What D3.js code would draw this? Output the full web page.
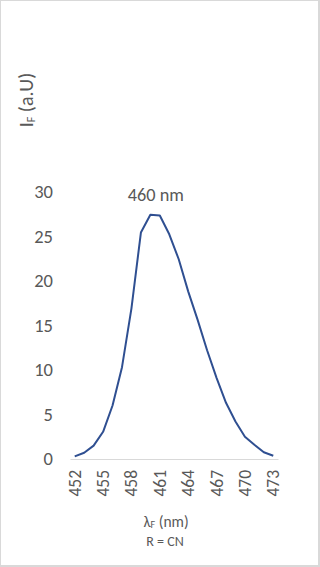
<!DOCTYPE html>
<html>
<head>
<meta charset="utf-8">
<script src="https://cdn.jsdelivr.net/npm/d3@7"></script>
<style>
  html, body { margin: 0; padding: 0; background: #fff; }
  svg { display: block; }
</style>
</head>
<body>
<div id="chart"></div>
<script>
// wavelength (nm) and fluorescence intensity
const wavelengths = [452, 453, 454, 455, 456, 457, 458, 459, 460, 461, 462,
  463, 464, 465, 466, 467, 468, 469, 470, 471, 472, 473];
const intensity = [0.3, 0.7, 1.5, 3.05, 6.0, 10.3, 16.9, 25.4, 27.4, 27.3, 25.2,
  22.4, 18.8, 15.6, 12.2, 9.1, 6.3, 4.2, 2.5, 1.6, 0.75, 0.37];
const xTickLabels = [452, 455, 458, 461, 464, 467, 470, 473];
const yTicks = [0, 5, 10, 15, 20, 25, 30];
const peakLabel = "460 nm";
const peakAt = 460;

const width = 320, height = 567;
const font = "Calibri, Carlito, 'Open Sans', sans-serif";
const textColor = "#595959";

const svg = d3.select("#chart").append("svg")
  .attr("width", width)
  .attr("height", height)
  .style("font-family", font);

// frame
svg.append("rect").attr("width", width).attr("height", height).attr("fill", "#d9d9d9");
svg.append("rect").attr("x", 1).attr("y", 1)
  .attr("width", width - 3).attr("height", height - 3).attr("fill", "#fff");

const x = d3.scaleBand()
  .domain(wavelengths)
  .range([70, 278]);

const y = d3.scaleLinear()
  .domain([0, 30])
  .range([459, 191.5]);

const cx = d => x(d) + x.bandwidth() / 2;

// y axis labels
svg.append("g")
  .attr("transform", "translate(53,0)")
  .call(d3.axisLeft(y).tickValues(yTicks).tickSize(0).tickPadding(0))
  .call(g => g.select(".domain").remove())
  .call(g => g.selectAll("text")
    .attr("fill", textColor)
    .style("font-size", "18.5px")
    .style("font-family", font));

// x axis
const xAxis = svg.append("g")
  .attr("transform", `translate(0,${y(0)})`)
  .call(d3.axisBottom(x).tickValues(xTickLabels).tickSize(0).tickPadding(0));
xAxis.select(".domain").attr("stroke", "#d9d9d9").attr("stroke-width", 1);
xAxis.selectAll("text")
  .attr("fill", textColor)
  .style("font-size", "17.5px")
  .style("font-family", font)
  .attr("text-anchor", "end")
  .attr("dy", null)
  .attr("transform", "translate(6,11) rotate(-90)")
  .attr("x", 0).attr("y", 0);

// line
const line = d3.line()
  .x((d, i) => cx(wavelengths[i]))
  .y(d => y(d));

svg.append("path")
  .datum(intensity)
  .attr("fill", "none")
  .attr("stroke", "#2f4f91")
  .attr("stroke-width", 2)
  .attr("stroke-linejoin", "round")
  .attr("d", line);

// peak label
svg.append("text")
  .attr("x", cx(peakAt) + 5.5)
  .attr("y", 201)
  .attr("text-anchor", "middle")
  .attr("fill", textColor)
  .style("font-size", "18.3px")
  .text(peakLabel);

// axis titles
const xTitle = svg.append("text")
  .attr("x", 166)
  .attr("y", 527)
  .attr("text-anchor", "middle")
  .attr("fill", textColor)
  .style("font-size", "15.5px");
xTitle.append("tspan").text("λ");
xTitle.append("tspan").attr("font-size", "10px").attr("dy", 1).text("F");
xTitle.append("tspan").attr("dy", -1).text(" (nm)");

svg.append("text")
  .attr("x", 165)
  .attr("y", 546)
  .attr("text-anchor", "middle")
  .attr("fill", textColor)
  .style("font-size", "14px")
  .text("R = CN");

const yTitle = svg.append("text")
  .attr("transform", "translate(33,100) rotate(-90)")
  .attr("text-anchor", "middle")
  .attr("fill", textColor)
  .style("font-size", "20px");
yTitle.append("tspan").text("I");
yTitle.append("tspan").attr("font-size", "12px").attr("dy", 2).text("F");
yTitle.append("tspan").attr("dy", -2).text(" (a.U)");
</script>
</body>
</html>
